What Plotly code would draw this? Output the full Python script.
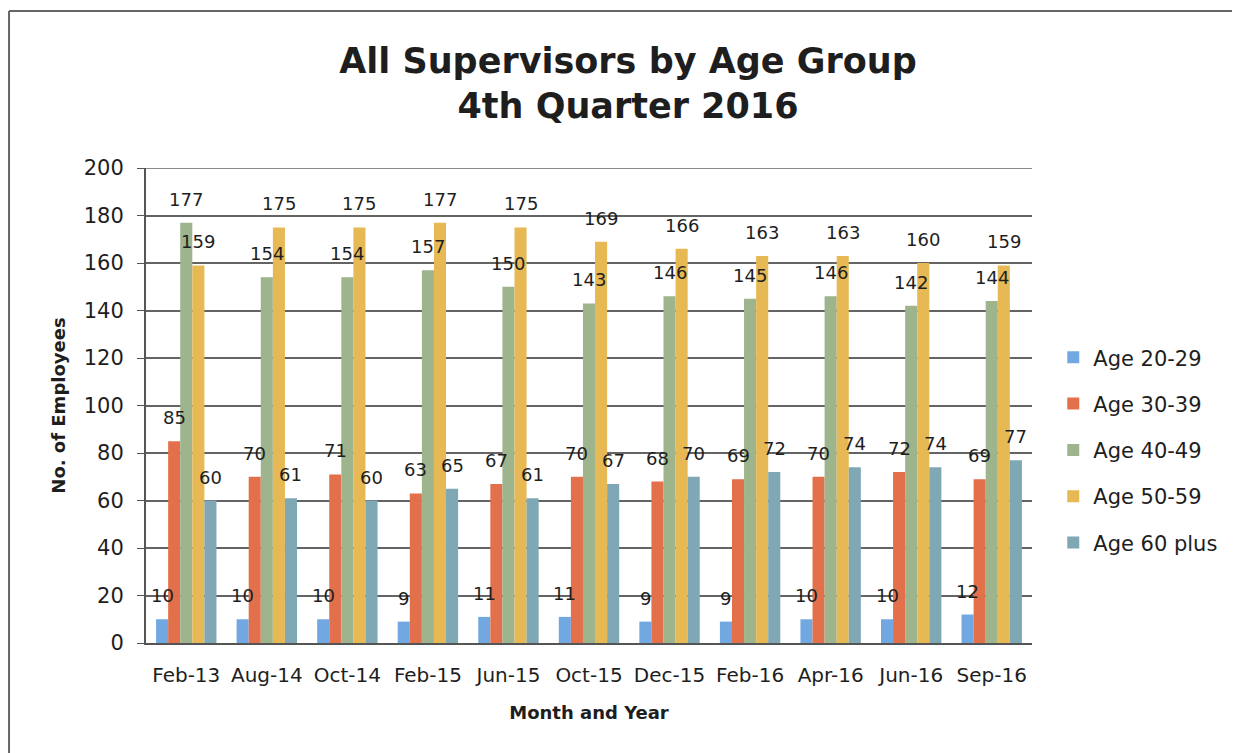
import plotly.graph_objects as go

months = ["Feb-13", "Aug-14", "Oct-14", "Feb-15", "Jun-15", "Oct-15",
          "Dec-15", "Feb-16", "Apr-16", "Jun-16", "Sep-16"]

age_20_29 = [10, 10, 10, 9, 11, 11, 9, 9, 10, 10, 12]
age_30_39 = [85, 70, 71, 63, 67, 70, 68, 69, 70, 72, 69]
age_40_49 = [177, 154, 154, 157, 150, 143, 146, 145, 146, 142, 144]
age_50_59 = [159, 175, 175, 177, 175, 169, 166, 163, 163, 160, 159]
age_60_plus = [60, 61, 60, 65, 61, 67, 70, 72, 74, 74, 77]

series = [
    ("Age 20-29", age_20_29, "#72a8e2"),
    ("Age 30-39", age_30_39, "#e2714b"),
    ("Age 40-49", age_40_49, "#9db48c"),
    ("Age 50-59", age_50_59, "#e6b955"),
    ("Age 60 plus", age_60_plus, "#7fa8b4"),
]

FONT = "DejaVu Sans"
TXT = "#1e1e1e"
GRID = "#646464"
BARGAP = 0.25
PLOT_W = 886  # px width of plotting area

fig = go.Figure()
bar_w = PLOT_W / len(months) * (1 - BARGAP) / len(series)
for i, (name, vals, color) in enumerate(series):
    fig.add_trace(go.Bar(
        x=months, y=vals, name=name, marker_color=color,
        marker_line_width=0, legendgroup=str(i),
    ))
    # data labels sit a little above the bar tops
    for m, v in zip(months, vals):
        fig.add_annotation(
            x=m, y=v, text=str(v), showarrow=False,
            yanchor="bottom", yshift=11, xshift=(i - 2) * bar_w,
            font=dict(family=FONT, size=18, color=TXT),
        )

fig.update_layout(
    width=1240, height=753,
    barmode="group", bargap=BARGAP, bargroupgap=0,
    plot_bgcolor="white", paper_bgcolor="white",
    margin=dict(l=138, r=216, t=160, b=118),
    font=dict(family=FONT, size=17, color=TXT),
    title=dict(
        text="<b>All Supervisors by Age Group<br>4th Quarter 2016</b>",
        x=0.5, xanchor="center", y=0.914, yanchor="top",
        font=dict(family=FONT, size=35, color=TXT),
    ),
    legend=dict(
        x=1.024, y=0.406, xanchor="left", yanchor="middle",
        font=dict(family=FONT, size=21, color=TXT),
        traceorder="grouped", tracegroupgap=16,
        itemwidth=30,
    ),
    showlegend=True,
)

fig.update_xaxes(
    title=dict(text="<b>Month and Year</b>", font=dict(size=18), standoff=20),
    showline=True, linecolor="#555555", linewidth=2,
    tickfont=dict(size=20), ticks="", ticklabelstandoff=13,
)
fig.update_yaxes(
    title=dict(text="<b>No. of Employees</b>", font=dict(size=18), standoff=13),
    range=[0, 200], dtick=20,
    showline=True, linecolor="#555555", linewidth=2,
    showgrid=True, gridcolor=GRID, gridwidth=1.5,
    ticks="outside", ticklen=7, tickcolor="#555555",
    ticklabelstandoff=9,
    tickfont=dict(size=21),
)

# top gridline at the range edge
fig.add_hline(y=200, line=dict(color=GRID, width=1.5))

# outer frame of the scanned chart (only left and top edges are visible)
frame = dict(color="#666666", width=2)
fig.add_shape(type="line", xref="paper", yref="paper",
              x0=-0.1546, x1=-0.1546, y0=-0.3, y1=1.3305, line=frame)
fig.add_shape(type="line", xref="paper", yref="paper",
              x0=-0.1546, x1=1.35, y0=1.3305, y1=1.3305, line=frame)

fig.write_html("out.html")
